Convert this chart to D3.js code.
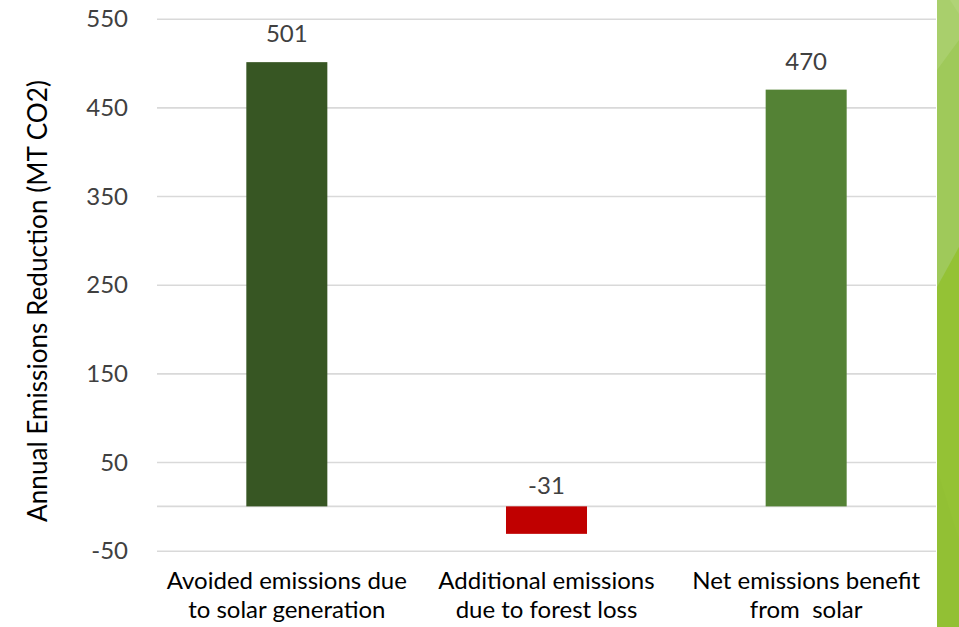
<!DOCTYPE html>
<html>
<head>
<meta charset="utf-8">
<script src="https://cdn.jsdelivr.net/npm/d3@7"></script>
<style>
  html, body { margin: 0; padding: 0; background: #ffffff; }
  svg { display: block; }
  text { font-family: Lato, "Noto Sans", sans-serif; }
</style>
</head>
<body>
<svg id="chart" width="959" height="627"></svg>
<script>
// Chart data
const categories = [
  ["Avoided emissions due", "to solar generation"],
  ["Additional emissions", "due to forest loss"],
  ["Net emissions benefit", "from  solar"]
];
const values = [501, -31, 470];
const barColors = ["#375623", "#c00000", "#548235"];
const tickValues = [-50, 50, 150, 250, 350, 450, 550];
const yTitle = "Annual Emissions Reduction (MT CO2)";

const svg = d3.select("#chart");
const W = 959, H = 627;
const plot = { left: 157, right: 936, top: 18.7, bottom: 550.7 };

const x = d3.scaleBand()
  .domain(d3.range(values.length))
  .range([plot.left, plot.right])
  .paddingInner(0.688)
  .paddingOuter(0.344);

const y = d3.scaleLinear()
  .domain([-50, 550])
  .range([plot.bottom, plot.top]);

// Gridlines and tick labels (plain hyphen for negatives)
const yAxis = d3.axisLeft(y)
  .tickValues(tickValues)
  .tickSize(-(plot.right - plot.left))
  .tickPadding(29)
  .tickFormat(d => String(d));

const gy = svg.append("g")
  .attr("transform", `translate(${plot.left},0)`)
  .call(yAxis);
gy.select(".domain").remove();
gy.selectAll(".tick line")
  .attr("stroke", "#d9d9d9")
  .attr("stroke-width", 1.6);
gy.selectAll(".tick text")
  .attr("fill", "#404040")
  .style("font-size", "24px")
  .attr("dy", "0.34em");

// Category axis line at zero
svg.append("line")
  .attr("x1", plot.left).attr("x2", plot.right)
  .attr("y1", y(0)).attr("y2", y(0))
  .attr("stroke", "#d9d9d9")
  .attr("stroke-width", 1.6);

// Bars
svg.append("g").selectAll("rect")
  .data(values)
  .join("rect")
  .attr("x", (d, i) => x(i))
  .attr("width", x.bandwidth())
  .attr("y", d => y(Math.max(0, d)))
  .attr("height", d => Math.abs(y(d) - y(0)))
  .attr("fill", (d, i) => barColors[i]);

// Value labels
svg.append("g").selectAll("text")
  .data(values)
  .join("text")
  .attr("x", (d, i) => x(i) + x.bandwidth() / 2)
  .attr("y", d => y(Math.max(0, d)) - (d >= 0 ? 20 : 12))
  .attr("text-anchor", "middle")
  .attr("fill", "#404040")
  .style("font-size", "24px")
  .text(d => String(d));

// Category labels (two lines each)
const cat = svg.append("g").selectAll("text")
  .data(categories)
  .join("text")
  .attr("text-anchor", "middle")
  .attr("fill", "#000000")
  .style("font-size", "24px")
  .style("white-space", "pre");
cat.selectAll("tspan")
  .data((d, i) => d.map(line => ({ line, i })))
  .join("tspan")
  .attr("x", d => x(d.i) + x.bandwidth() / 2)
  .attr("y", (d, j) => 589 + j * 29)
  .text(d => d.line);

// Axis title, sized so it runs from y=80 to y=522
const title = svg.append("text")
  .attr("transform", `translate(47,301) rotate(-90)`)
  .attr("text-anchor", "middle")
  .attr("fill", "#000000")
  .style("font-size", "24px")
  .text(yTitle);
const titleLen = title.node().getComputedTextLength();
if (titleLen > 0) title.style("font-size", (24 * 442 / titleLen).toFixed(2) + "px");

// Decorative faceted band on the right edge
const band = svg.append("g");
band.append("rect")
  .attr("x", 937).attr("y", 0).attr("width", W - 937).attr("height", H)
  .attr("fill", "#94c235");
band.append("polygon")
  .attr("points", `937,0 ${W},0 ${W},247 937,287`)
  .attr("fill", "#9fc95a");
band.append("polygon")
  .attr("points", `937,0 ${W},0 ${W},40 937,70`)
  .attr("fill", "#a9cf6c");
band.append("polygon")
  .attr("points", `950,0 ${W},0 ${W},14`)
  .attr("fill", "#b0d377");
band.append("polygon")
  .attr("points", `937,470 ${W},540 ${W},${H} 937,${H}`)
  .attr("fill", "#92c034");
</script>
</body>
</html>
